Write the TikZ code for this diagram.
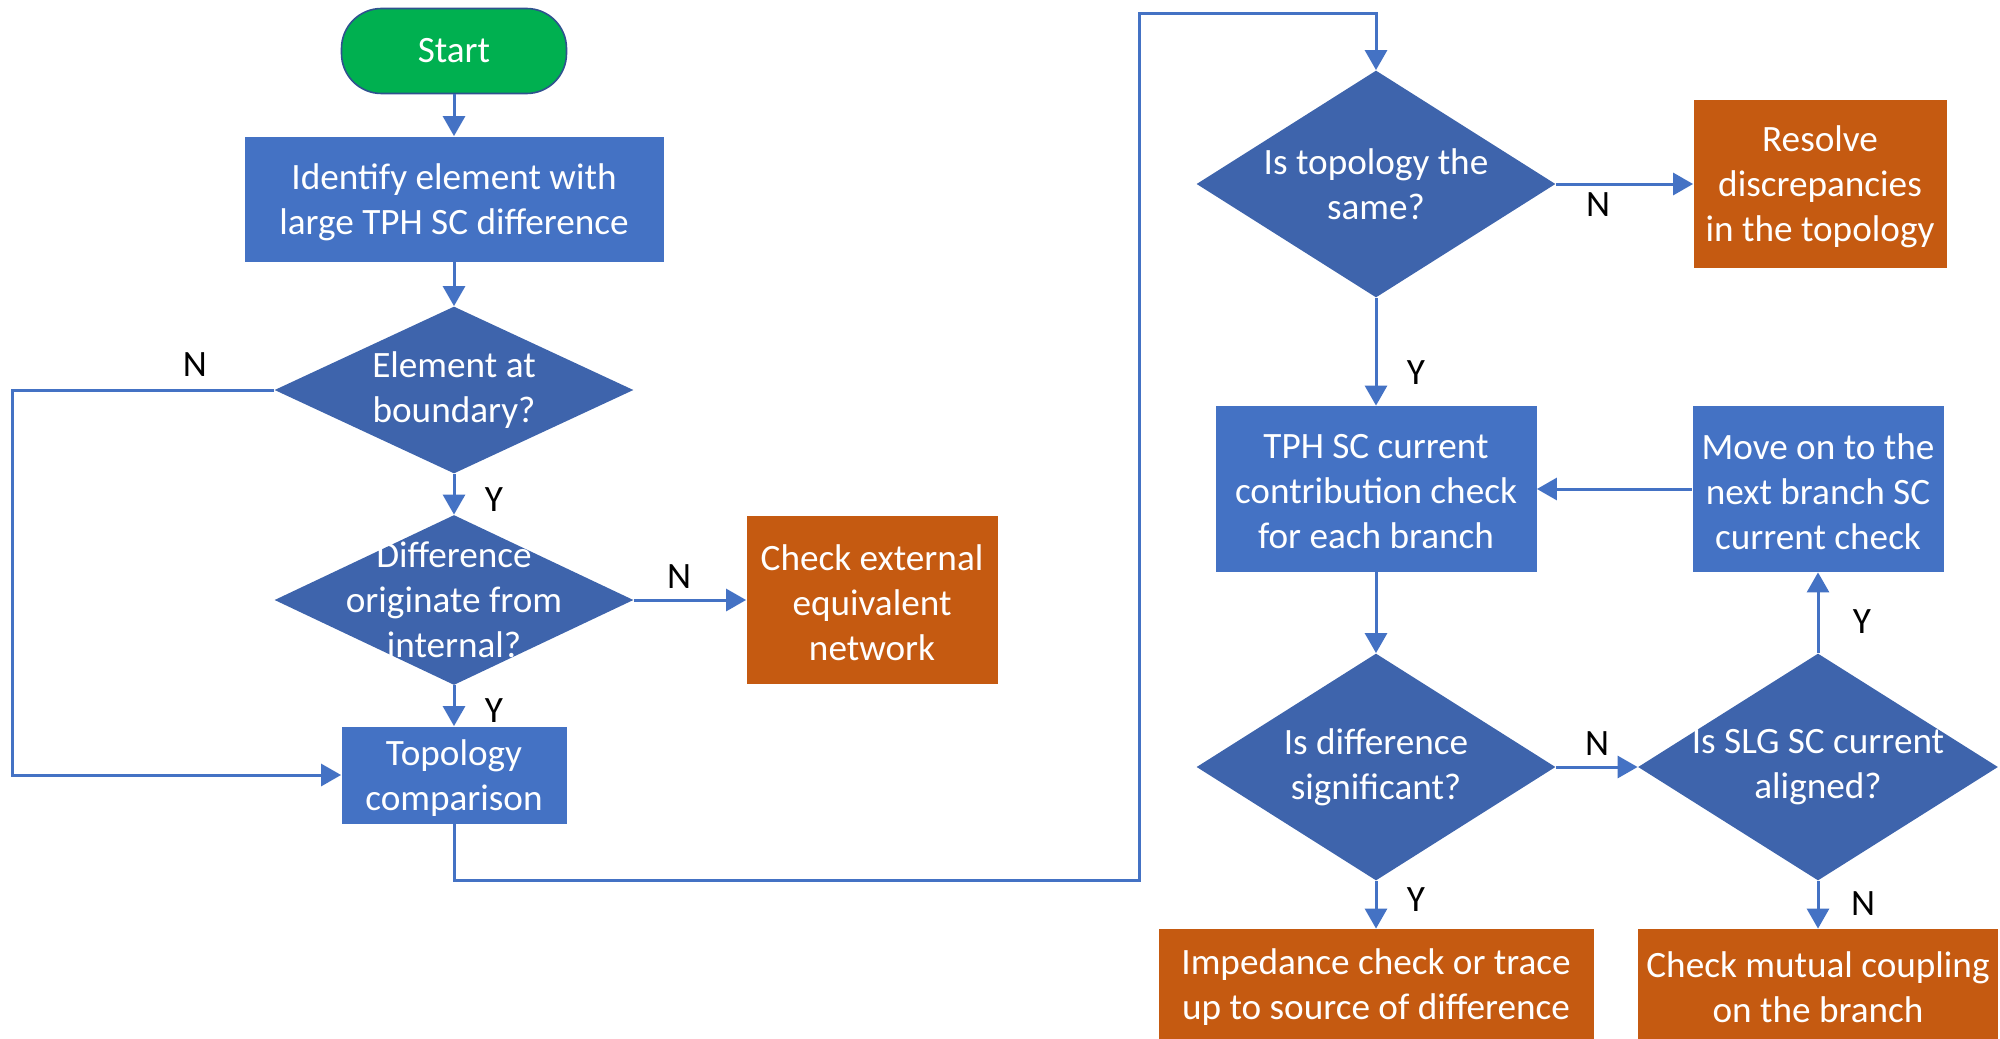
\documentclass[tikz,border=0pt]{standalone}
\usepackage{fontspec}
\setmainfont{Carlito}
\usetikzlibrary{shapes.geometric,arrows.meta}

\definecolor{procblue}{HTML}{4472C4}
\definecolor{decblue}{HTML}{3E64AC}
\definecolor{endorange}{HTML}{C55A11}
\definecolor{startgreen}{HTML}{00B050}
\definecolor{startedge}{HTML}{2F528F}
\definecolor{linkblue}{HTML}{4472C4}

\tikzset{
  basefont/.style={font=\fontsize{18.6}{22.5}\selectfont},
  boxtext/.style={basefont, text=white, align=center, inner sep=0pt, yshift=-1.5pt},
  proc/.style={rectangle, fill=procblue, inner sep=0pt, label={[boxtext]center:#1}},
  finalbox/.style={rectangle, fill=endorange, inner sep=0pt, label={[boxtext]center:#1}},
  startbox/.style={basefont, rectangle, rounded corners=20pt, fill=startgreen, draw=startedge,
    line width=0.8pt, text=white, inner sep=0pt},
  dectext/.style={basefont, text=white, align=center, inner sep=0pt},
  dec/.style={diamond, fill=decblue, inner sep=0pt, label={[dectext]center:#1}},
  yn/.style={basefont, text=black, inner sep=0pt},
  link/.style={draw=linkblue, line width=1.5pt, -{Triangle[length=10pt,width=11pt]}}
}

\begin{document}
\begin{tikzpicture}[x=0.5pt, y=-0.5pt]
\useasboundingbox (0,0) rectangle (2000,1038);

% left column
\node[startbox, minimum width=112.5pt, minimum height=42.5pt] (start) at (454,51) {Start};
\node[proc={Identify element with\\large TPH SC difference},
  minimum width=209.5pt, minimum height=62.5pt] (ident) at (454,199) {};
\node[dec={Element at\\boundary?}, minimum width=179.5pt, minimum height=83.5pt] (bound) at (454,390) {};
\node[dec={Difference\\originate from\\internal?}, minimum width=179.5pt, minimum height=85pt] (orig) at (454,600) {};
\node[finalbox={Check external\\equivalent\\network},
  minimum width=125.5pt, minimum height=84pt] (ext) at (872,600) {};
\node[proc={Topology\\comparison},
  minimum width=112.5pt, minimum height=48.5pt] (topo) at (454,775) {};

% right column
\node[dec={Is topology the\\same?}, minimum width=179.5pt, minimum height=113.5pt] (same) at (1376,184) {};
\node[finalbox={Resolve\\discrepancies\\in the topology},
  minimum width=126.5pt, minimum height=83.5pt] (resolve) at (1820,184) {};
\node[proc={TPH SC current\\contribution check\\for each branch},
  minimum width=160.5pt, minimum height=83pt] (tph) at (1376,489) {};
\node[proc={Move on to the\\next branch SC\\current check},
  minimum width=125.5pt, minimum height=83pt] (move) at (1818,489) {};
\node[dec={Is difference\\significant?}, minimum width=179.5pt, minimum height=113.5pt] (signif) at (1376,767) {};
\node[dec={Is SLG SC current\\aligned?}, minimum width=180pt, minimum height=113.5pt] (slg) at (1818,767) {};
\node[finalbox={Impedance check or trace\\up to source of difference},
  minimum width=217.5pt, minimum height=55.5pt] (imped) at (1376,984.5) {};
\node[finalbox={Check mutual coupling\\on the branch},
  minimum width=180pt, minimum height=55.5pt] (mutual) at (1818,984.5) {};

% routing points
\coordinate (leftrail) at (12,390);
\coordinate (lowturn) at (1139,880);
\coordinate (highturn) at (1139,14);

% connectors
\draw[link] (start) -- (ident);
\draw[link] (ident) -- (bound);
\draw[link] (bound) -- (orig);
\draw[link] (orig) -- (ext);
\draw[link] (orig) -- (topo);
\draw[link] (bound.west) -- (leftrail) |- (topo.west);
\draw[link] (topo.south) |- (lowturn) -- (highturn) -| (same.north);
\draw[link] (same) -- (resolve);
\draw[link] (same) -- (tph);
\draw[link] (move) -- (tph);
\draw[link] (tph) -- (signif);
\draw[link] (signif.east) -- (slg.west);
\draw[link] (slg) -- (move);
\draw[link] (signif) -- (imped);
\draw[link] (slg) -- (mutual);

% branch labels
\node[yn] (n1) at (195,365) {N};
\node[yn] (y1) at (494,500) {Y};
\node[yn] (n2) at (679,577) {N};
\node[yn] (y2) at (494,711) {Y};
\node[yn] (n3) at (1598,205) {N};
\node[yn] (y3) at (1416,373) {Y};
\node[yn] (n4) at (1597,744) {N};
\node[yn] (y4) at (1862,622) {Y};
\node[yn] (n5) at (1863,904) {N};
\node[yn] (y5) at (1416,900) {Y};
\end{tikzpicture}
\end{document}
